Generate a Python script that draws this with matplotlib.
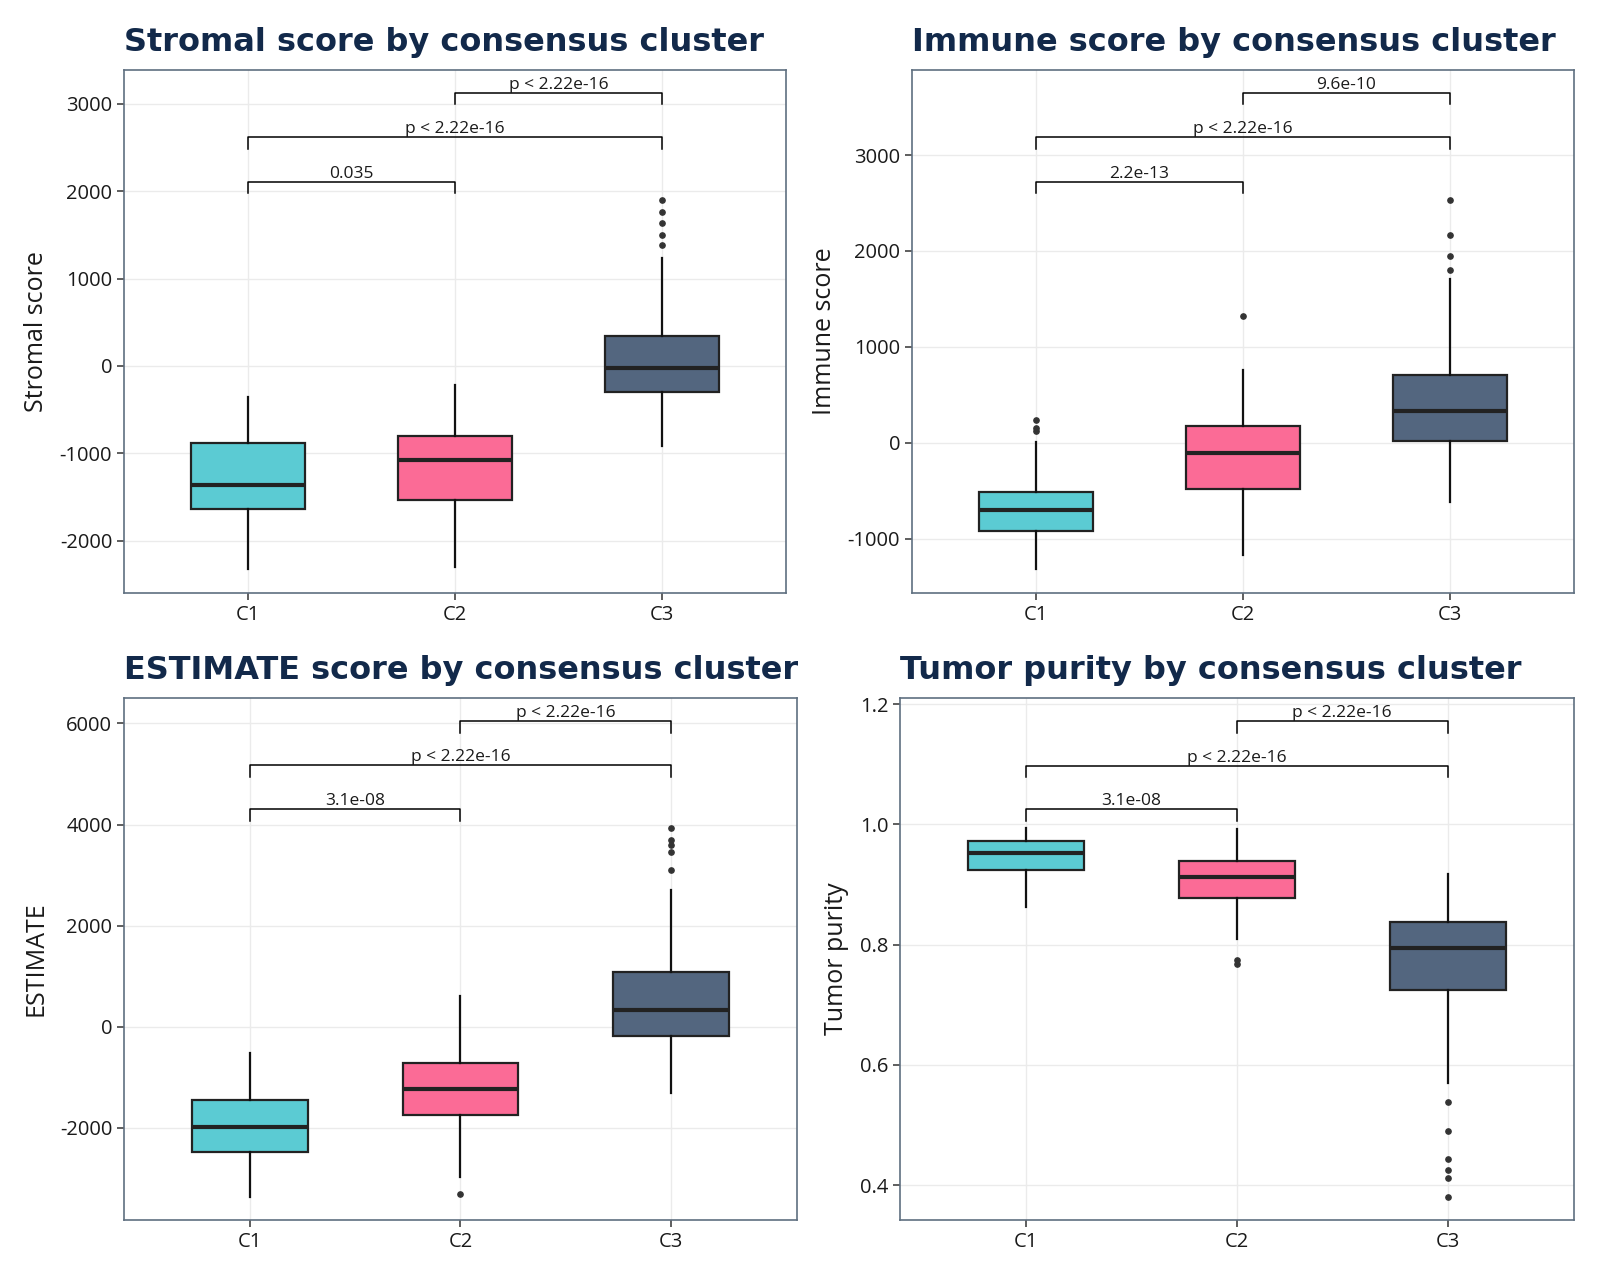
import matplotlib
matplotlib.use("Agg")
import matplotlib.pyplot as plt

# ---- data (box stats per cluster) ----
clusters = ["C1", "C2", "C3"]
colors = ["#5BCBD3", "#FB6B96", "#53667F"]

stromal_q1 = [-1633, -1538, -303]
stromal_med = [-1357, -1081, -27]
stromal_q3 = [-882, -801, 339]
stromal_lo = [-2326, -2294, -914]
stromal_hi = [-357, -222, 1235]
stromal_out = [[], [], [1896, 1765, 1638, 1493, 1385]]

immune_q1 = [-916, -483, 21]
immune_med = [-702, -111, 330]
immune_q3 = [-516, 177, 710]
immune_lo = [-1321, -1168, -619]
immune_hi = [8, 763, 1713]
immune_out = [[235, 150, 125], [1321], [2530, 2163, 1952, 1804]]

estimate_q1 = [-2481, -1745, -178]
estimate_med = [-1996, -1244, 323]
estimate_q3 = [-1455, -727, 1075]
estimate_lo = [-3370, -2974, -1325]
estimate_hi = [-517, 606, 2699]
estimate_out = [[], [-3313], [3927, 3701, 3596, 3459, 3095]]

purity_q1 = [0.924, 0.878, 0.724]
purity_med = [0.953, 0.913, 0.795]
purity_q3 = [0.972, 0.940, 0.837]
purity_lo = [0.862, 0.810, 0.570]
purity_hi = [0.994, 0.993, 0.917]
purity_out = [[], [0.775, 0.768], [0.539, 0.490, 0.443, 0.425, 0.411, 0.380]]

# brackets: (group a, group b, bracket y, tick bottom y, label)
stromal_pairs = [(0, 1, 2104, 1973, "0.035"), (0, 2, 2615, 2484, "p < 2.22e-16"),
                 (1, 2, 3122, 2991, "p < 2.22e-16")]
immune_pairs = [(0, 1, 2720, 2600, "2.2e-13"), (0, 2, 3186, 3066, "p < 2.22e-16"),
                (1, 2, 3648, 3529, "9.6e-10")]
estimate_pairs = [(0, 1, 4299, 4065, "3.1e-08"), (0, 2, 5172, 4937, "p < 2.22e-16"),
                  (1, 2, 6053, 5818, "p < 2.22e-16")]
purity_pairs = [(0, 1, 1.025, 1.005, "3.1e-08"), (0, 2, 1.098, 1.079, "p < 2.22e-16"),
                (1, 2, 1.172, 1.153, "p < 2.22e-16")]

TITLE_COL = "#12294A"
FRAME_COL = "#5F6F80"
TXT_COL = "#1a1a1a"


def panel(ax, title, ylabel, q1, med, q3, lo, hi, out, pairs, ylim, yticks, fmt):
    stats = []
    for i in range(3):
        stats.append(dict(q1=q1[i], med=med[i], q3=q3[i], whislo=lo[i], whishi=hi[i], fliers=out[i]))
    bp = ax.bxp(stats, positions=[1, 2, 3], widths=0.55, patch_artist=True, showcaps=False,
                boxprops=dict(edgecolor="#222222", linewidth=1.6),
                medianprops=dict(color="#222222", linewidth=3),
                whiskerprops=dict(color="#111111", linewidth=1.6),
                flierprops=dict(marker="o", markersize=3.8, markerfacecolor="#333333",
                                markeredgecolor="#333333"),
                zorder=3)
    for patch, c in zip(bp["boxes"], colors):
        patch.set_facecolor(c)

    for a, b, yb, yt, lab in pairs:
        xa, xb = a + 1, b + 1
        ax.plot([xa, xa, xb, xb], [yt, yb, yb, yt], color="black", linewidth=1.1, zorder=4)
        ax.text((xa + xb) / 2, yb, lab, ha="center", va="bottom", fontsize=12.5,
                color=TXT_COL, family="Open Sans", zorder=5)

    ax.set_xlim(0.4, 3.6)
    ax.set_ylim(*ylim)
    ax.set_xticks([1, 2, 3])
    ax.set_xticklabels(clusters)
    ax.set_yticks(yticks)
    ax.set_yticklabels([fmt(v) for v in yticks])
    ax.grid(True, color="#EBEBEB", linewidth=1.0, zorder=0)
    ax.set_axisbelow(True)
    for s in ax.spines.values():
        s.set_color(FRAME_COL)
        s.set_linewidth(1.2)
    ax.tick_params(axis="both", length=5, width=1.1, color="#333333", labelsize=14.5,
                   labelcolor=TXT_COL)
    for lab in ax.get_xticklabels() + ax.get_yticklabels():
        lab.set_family("Open Sans")
    ax.set_ylabel(ylabel, fontsize=18, family="Open Sans", color=TXT_COL, labelpad=8)
    ax.set_title(title, loc="left", fontsize=23, fontweight="bold", color=TITLE_COL,
                 family="DejaVu Sans", pad=14)


fig = plt.figure(figsize=(16, 12.8), dpi=100)
ax1 = fig.add_axes([0.0775, 0.5367, 0.41375, 0.4086])
ax2 = fig.add_axes([0.57, 0.5367, 0.41375, 0.4086])
ax3 = fig.add_axes([0.0775, 0.0469, 0.4206, 0.4078])
ax4 = fig.add_axes([0.5625, 0.0469, 0.42125, 0.4078])

ifmt = lambda v: f"{v:.0f}"
panel(ax1, "Stromal score by consensus cluster", "Stromal score",
      stromal_q1, stromal_med, stromal_q3, stromal_lo, stromal_hi, stromal_out,
      stromal_pairs, (-2597, 3385), [-2000, -1000, 0, 1000, 2000, 3000], ifmt)
panel(ax2, "Immune score by consensus cluster", "Immune score",
      immune_q1, immune_med, immune_q3, immune_lo, immune_hi, immune_out,
      immune_pairs, (-1568, 3888), [-1000, 0, 1000, 2000, 3000], ifmt)
panel(ax3, "ESTIMATE score by consensus cluster", "ESTIMATE",
      estimate_q1, estimate_med, estimate_q3, estimate_lo, estimate_hi, estimate_out,
      estimate_pairs, (-3830, 6505), [-2000, 0, 2000, 4000, 6000], ifmt)
panel(ax4, "Tumor purity by consensus cluster", "Tumor purity",
      purity_q1, purity_med, purity_q3, purity_lo, purity_hi, purity_out,
      purity_pairs, (0.342, 1.2105), [0.4, 0.6, 0.8, 1.0, 1.2], lambda v: f"{v:.1f}")

fig.savefig("out.png", dpi=100, facecolor="white")
